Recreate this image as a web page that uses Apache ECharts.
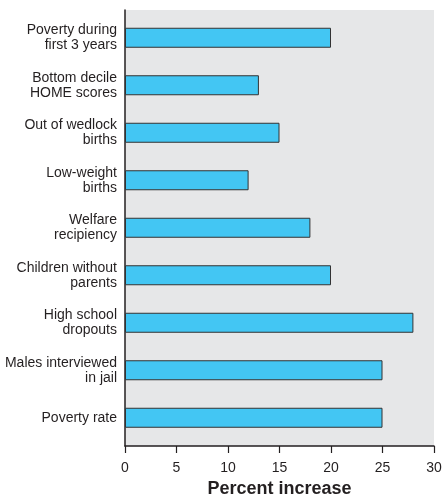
<!DOCTYPE html>
<html>
<head>
<meta charset="utf-8">
<script src="https://cdn.jsdelivr.net/npm/echarts@6/dist/echarts.min.js"></script>
<style>
html,body{margin:0;padding:0;background:#fff;}
#c{width:442px;height:497px;}
</style>
</head>
<body>
<div id="c"></div>
<script>
// Categories, top to bottom
var categories = [
  'Poverty during\nfirst 3 years',
  'Bottom decile\nHOME scores',
  'Out of wedlock\nbirths',
  'Low-weight\nbirths',
  'Welfare\nrecipiency',
  'Children without\nparents',
  'High school\ndropouts',
  'Males interviewed\nin jail',
  'Poverty rate'
];
var values = [20, 13, 15, 12, 18, 20, 28, 25, 25];
var xTicks = [0, 5, 10, 15, 20, 25, 30];
var xName = 'Percent increase';

var FONT = "'Liberation Sans Narrow', 'Arial Narrow', 'Liberation Sans', Arial, sans-serif";
var DARK = '#231f20';

var chart = echarts.init(document.getElementById('c'), null, {renderer: 'canvas'});
chart.setOption({
  animation: false,
  grid: [
    {left: 125, right: 8, top: 14, bottom: 55.5, containLabel: false, outerBoundsMode: 'none'},
    {left: 125, right: 8, top: 10, bottom: 51, containLabel: false, outerBoundsMode: 'none',
      show: true, backgroundColor: '#e6e7e8', borderWidth: 0}
  ],
  xAxis: [
    {gridIndex: 0, type: 'value', min: xTicks[0], max: xTicks[xTicks.length-1], show: false},
    {gridIndex: 1, type: 'value', min: xTicks[0], max: xTicks[xTicks.length-1], interval: 5,
      axisLine: {show: true, lineStyle: {color: DARK, width: 1.5}},
      axisTick: {show: true, length: 7, lineStyle: {color: DARK, width: 1.2}},
      axisLabel: {color: DARK, fontFamily: FONT, fontSize: 14, margin: 15},
      splitLine: {show: false},
      name: xName, nameLocation: 'middle', nameGap: 33,
      nameTextStyle: {color: DARK, fontFamily: FONT, fontSize: 18, fontWeight: 'bold'}
    }
  ],
  yAxis: [
    {gridIndex: 0, type: 'category', data: categories, inverse: true,
      axisLine: {show: false}, axisTick: {show: false},
      axisLabel: {color: DARK, fontFamily: FONT, fontSize: 14, lineHeight: 15, margin: 8, align: 'right'}
    },
    {gridIndex: 1, type: 'value', min: 0, max: 1,
      axisLine: {show: true, lineStyle: {color: DARK, width: 1.5}},
      axisTick: {show: false}, axisLabel: {show: false}, splitLine: {show: false}
    }
  ],
  series: [{
    type: 'bar', xAxisIndex: 0, yAxisIndex: 0,
    data: values, barWidth: 20,
    itemStyle: {color: '#43c6f3', borderColor: '#333333', borderWidth: 1}
  }]
});
</script>
</body>
</html>
